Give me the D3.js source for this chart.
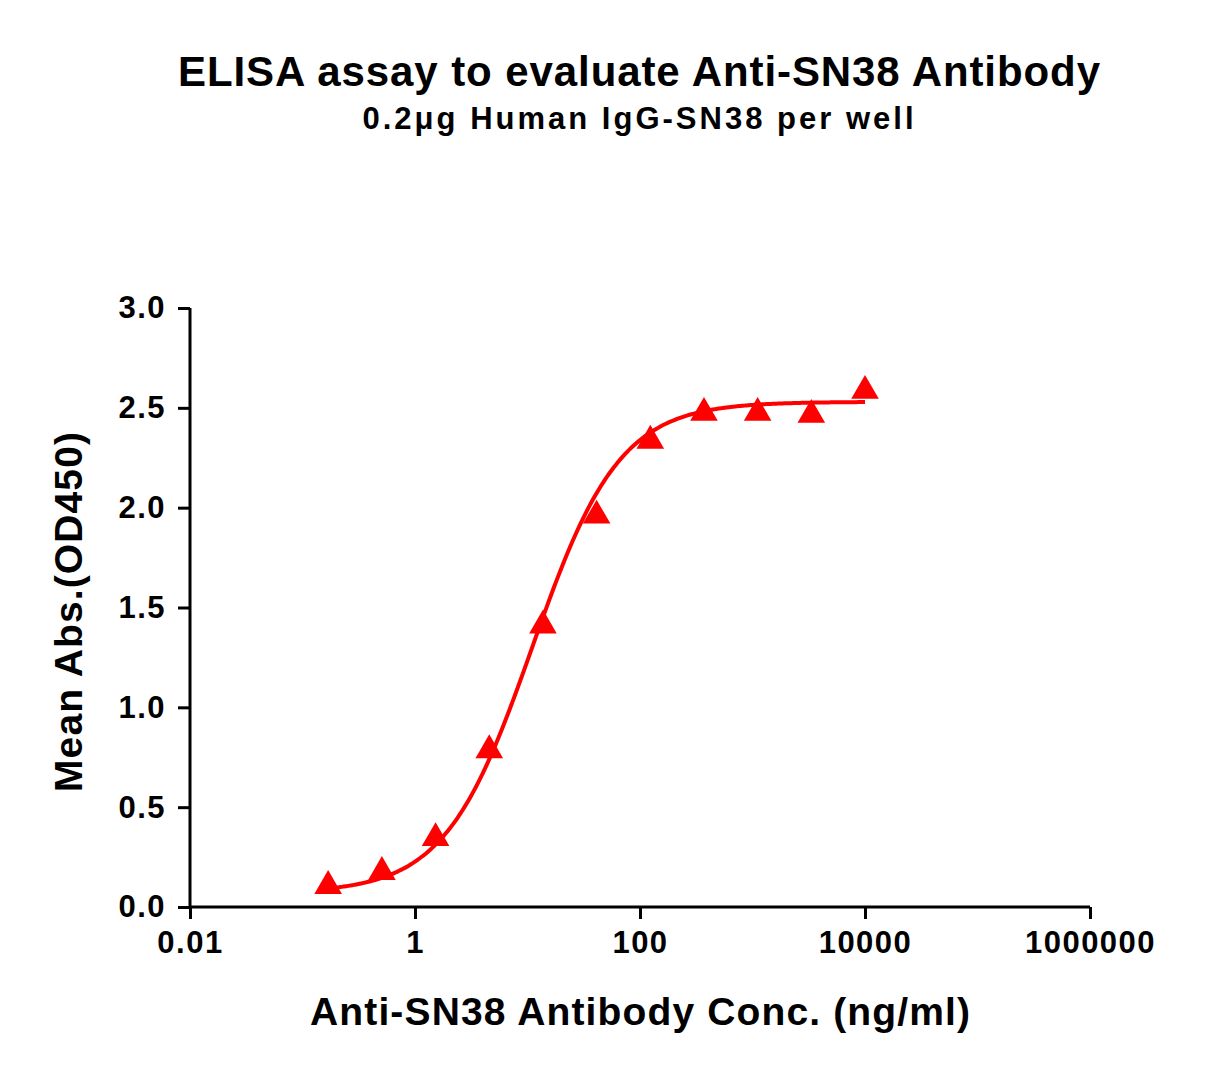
<!DOCTYPE html><html><head><meta charset="utf-8">
<script src="https://cdn.jsdelivr.net/npm/d3@7"></script>
<style>body{margin:0;background:#fff}text{font-family:"Liberation Sans",Arial,sans-serif;font-weight:bold}</style></head><body>
<svg id="c" width="1217" height="1075"></svg>
<script>
const conc=[10000,3333.3,1111.1,370.4,123.5,41.15,13.72,4.572,1.524,0.508,0.169];
const od=[2.585,2.465,2.475,2.475,2.335,1.96,1.41,0.785,0.345,0.175,0.105];
const xTicks=[0.01,1,100,10000,1000000];
const xLabels=["0.01","1","100","10000","1000000"];
const yTicks=[0,0.5,1,1.5,2,2.5,3];
const fit={bottom:0.07,top:2.53,ec50:11,hill:1.12};
const svg=d3.select("#c");
const x=d3.scaleLog().domain([0.01,1e6]).range([190,1090]);
const y=d3.scaleLinear().domain([0,3]).range([907,308]);
svg.append("text").attr("x",639).attr("y",86).attr("text-anchor","middle").attr("font-size",42).attr("textLength",922).text("ELISA assay to evaluate Anti-SN38 Antibody");
svg.append("text").attr("x",638).attr("y",129).attr("text-anchor","middle").attr("font-size",31).attr("textLength",551).text("0.2μg Human IgG-SN38 per well");
const gx=svg.append("g").attr("transform","translate(0,907)").call(d3.axisBottom(x).tickValues(xTicks).tickFormat((d,i)=>xLabels[i]).tickSize(12).tickPadding(12));
const gy=svg.append("g").attr("transform","translate(190,0)").call(d3.axisLeft(y).tickValues(yTicks).tickFormat(d3.format(".1f")).tickSize(12).tickPadding(12));
[gx,gy].forEach(g=>{g.selectAll("path,line").attr("stroke","#000").attr("stroke-width",3);g.select(".domain").attr("d",g===gx?"M190,0H1090":"M0,308V907");g.selectAll("text").attr("font-size",31).attr("fill","#000").style("font-family","Liberation Sans").style("font-weight","bold").style("letter-spacing","1.5px");});
svg.append("text").attr("x",640).attr("y",1025).attr("text-anchor","middle").attr("font-size",39).attr("textLength",660).text("Anti-SN38 Antibody Conc. (ng/ml)");
svg.append("text").attr("transform","translate(82,612) rotate(-90)").attr("text-anchor","middle").attr("font-size",39).attr("textLength",360).text("Mean Abs.(OD450)");
const f=c=>fit.bottom+(fit.top-fit.bottom)/(1+Math.pow(fit.ec50/c,fit.hill));
const xs=d3.range(0,241).map(i=>Math.pow(10,Math.log10(0.169)+i*(4-Math.log10(0.169))/240));
svg.append("path").attr("d",d3.line().x(d=>x(d)).y(d=>y(f(d))).curve(d3.curveBasis)(xs)).attr("fill","none").attr("stroke","#ff0000").attr("stroke-width",4);
svg.selectAll(".p").data(conc.map((c,i)=>[c,od[i]])).enter().append("path").attr("d",d3.symbol().type(d3.symbolTriangle).size(330)).attr("transform",d=>`translate(${x(d[0])},${y(d[1])})`).attr("fill","#ff0000");
</script></body></html>
